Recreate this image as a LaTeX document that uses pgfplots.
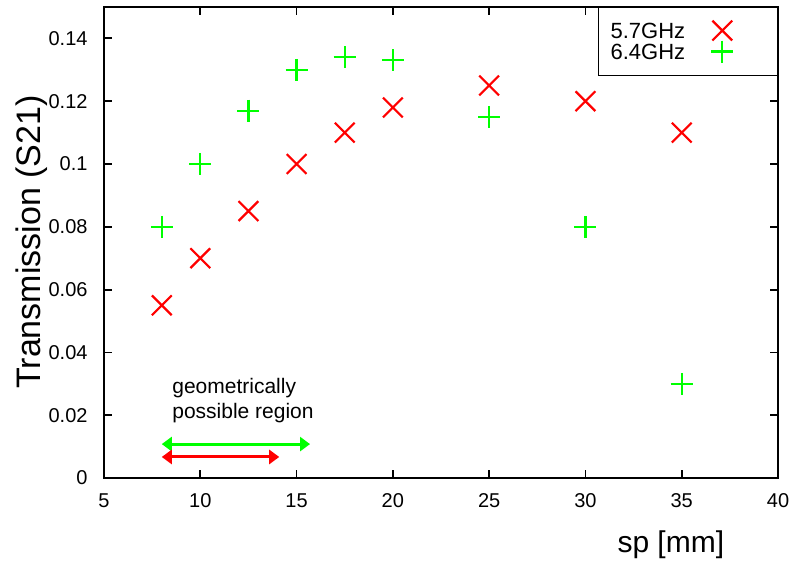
\documentclass[border=0pt]{standalone}
\usepackage{pgfplots}
\pgfplotsset{compat=1.18}
\usepackage{fontspec}
\setmainfont{Liberation Sans}
\usetikzlibrary{arrows.meta}
\definecolor{gred}{RGB}{255,0,0}
\definecolor{ggreen}{RGB}{0,255,0}

\begin{document}
\begin{tikzpicture}
\begin{axis}[
    name=ax,
    scale only axis,
    width=337pt,
    height=235.5pt,
    xmin=5, xmax=40,
    ymin=0, ymax=0.15,
    xtick={5,10,...,40},
    ytick={0,0.02,0.04,0.06,0.08,0.1,0.12,0.14},
    scaled y ticks=false,
    /pgf/number format/assume math mode=true,
    yticklabel style={/pgf/number format/fixed, /pgf/number format/precision=2, xshift=-4.7pt},
    xticklabel style={yshift=-4.2pt},
    tick label style={font=\fontsize{10}{12}\selectfont},
    tick align=inside,
    major tick length=4pt,
    every tick/.style={black, line width=0.9pt},
    axis line style={line width=1pt},
    every axis x label/.style={at={([yshift=-33.5pt]axis description cs:0.841,0)}, anchor=center, font=\fontsize{15}{18}\selectfont},
    every axis y label/.style={at={([xshift=-36pt]axis description cs:0,0.501)}, rotate=90, anchor=center, font=\fontsize{17}{20}\selectfont},
    xlabel={sp [mm]},
    ylabel={Transmission (S21)},
    legend plot pos=right,
    legend cell align=left,
    legend style={at={(1,1)}, anchor=north east, draw=black, line width=0.6pt,
        inner xsep=4pt, inner ysep=6.5pt, row sep=0pt,
        font=\fontsize{11}{11}\selectfont,
        nodes={inner ysep=1pt, text height=8pt, text depth=0pt}},
    legend image code/.code={\path (0pt,-3pt) (39pt,3pt);
        \draw[mark repeat=2,mark phase=2] plot coordinates {(0pt,0pt)(16pt,0pt)(32pt,0pt)};},
]
\addplot[only marks, mark=x, mark size=7pt, color=gred, line width=1.1pt] coordinates {
    (8, 0.055)
    (10, 0.070)
    (12.5, 0.085)
    (15, 0.100)
    (17.5, 0.110)
    (20, 0.118)
    (25, 0.125)
    (30, 0.120)
    (35, 0.110)
};
\addlegendentry{5.7GHz}
\addplot[only marks, mark=+, mark size=5.5pt, color=ggreen, line width=1.1pt] coordinates {
    (8, 0.080)
    (10, 0.100)
    (12.5, 0.117)
    (15, 0.130)
    (17.5, 0.134)
    (20, 0.133)
    (25, 0.115)
    (30, 0.080)
    (35, 0.030)
};
\addlegendentry{6.4GHz}
% region arrows
\addplot[ggreen, line width=1.5pt, {Triangle[length=5pt,width=7pt]}-{Triangle[length=5pt,width=7pt]}, forget plot] coordinates {(8,0.0108) (15.7,0.0108)};
\addplot[gred, line width=1.5pt, {Triangle[length=5pt,width=7pt]}-{Triangle[length=5pt,width=7pt]}, forget plot] coordinates {(8,0.0067) (14.1,0.0067)};
\node[anchor=west, align=left, font=\fontsize{10.5}{12.5}\selectfont, inner sep=0pt] at (axis cs:8.53,0.0247) {geometrically\\possible region};
\end{axis}
\pgfresetboundingbox
\path[use as bounding box] ([xshift=-52pt,yshift=-44.5pt]ax.south west) rectangle ([xshift=9pt,yshift=3.5pt]ax.north east);
\end{tikzpicture}
\end{document}
